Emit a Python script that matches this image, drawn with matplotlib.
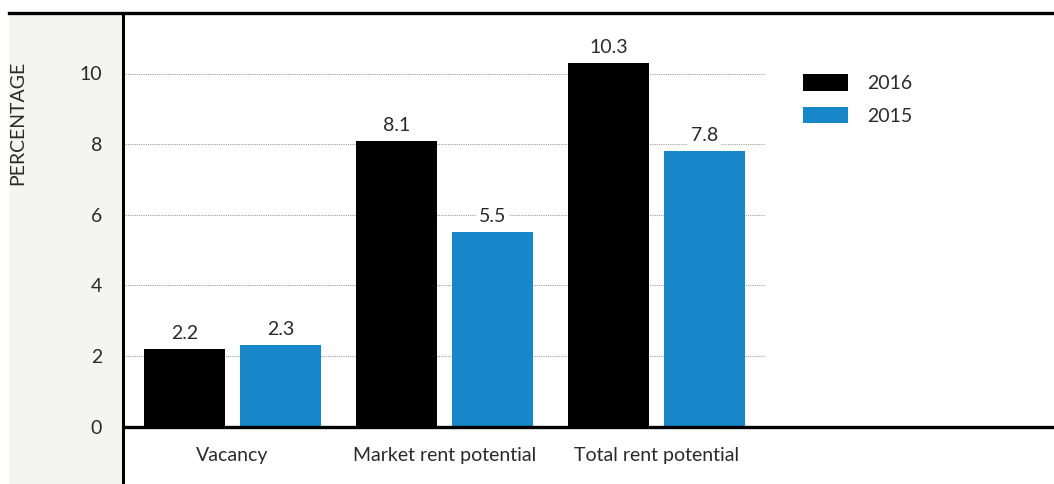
import matplotlib
matplotlib.use("Agg")
import matplotlib.pyplot as plt
from matplotlib.patches import Rectangle, Patch
from matplotlib.lines import Line2D

# -------------------------------------------------------------------------
# Data
# -------------------------------------------------------------------------
categories = ["Vacancy", "Market rent potential", "Total rent potential"]
series_names = ["2016", "2015"]
values_2016 = [2.2, 8.1, 10.3]
values_2015 = [2.3, 5.5, 7.8]
yticks = [0, 2, 4, 6, 8, 10]
grid_levels = [2, 4, 6, 8, 10]

BLACK = "#000000"
BLUE = "#1787c9"
TEXT = "#2a2a2a"
PANEL = "#f4f4f1"
FS = 14

plt.rcParams["font.family"] = ["Lato", "DejaVu Sans"]

W, H = 1054, 484
fig = plt.figure(figsize=(W / 100, H / 100), dpi=100)
fig.patch.set_facecolor("white")

# left grey panel behind tick labels
fig.add_artist(Rectangle((9 / W, 0), (122 - 9) / W, 1 - 14 / H,
                         transform=fig.transFigure, facecolor=PANEL,
                         edgecolor="none", zorder=0))
# heavy rule across the top
fig.add_artist(Line2D([9 / W, 1], [1 - 12.5 / H, 1 - 12.5 / H],
                      transform=fig.transFigure, color=BLACK, lw=2.4))

# axes spans from the top rule down to the bottom edge of the figure
px_per_unit = 35.3
y0_px = 426.5
ax = fig.add_axes([123 / W, 0, 1 - 123 / W, 1 - 14 / H])
ax.set_facecolor("white")
ax.set_ylim(-(H - y0_px) / px_per_unit, (y0_px - 14) / px_per_unit)

group_px = 212
center0 = 232.5
ax.set_xlim((123 - center0) / group_px, (W - center0) / group_px)

bar_w = 81 / group_px
offset = 48 / group_px
x = list(range(len(categories)))

ax.hlines(grid_levels, (123 - center0) / group_px, (765 - center0) / group_px,
          colors="#a0a0a0", linestyles=(0, (1, 1)), lw=0.8, zorder=1)

b1 = ax.bar([i - offset for i in x], values_2016, width=bar_w, color=BLACK, zorder=2)
b2 = ax.bar([i + offset for i in x], values_2015, width=bar_w, color=BLUE, zorder=2)

for bars, vals in ((b1, values_2016), (b2, values_2015)):
    for rect, v in zip(bars, vals):
        ax.annotate(f"{v:.1f}", (rect.get_x() + rect.get_width() / 2, v),
                    xytext=(0, 5), textcoords="offset points",
                    ha="center", va="bottom", fontsize=FS, color=TEXT,
                    bbox=dict(boxstyle="square,pad=0.15", fc="white", ec="none"),
                    zorder=3)

# baseline
ax.axhline(0, color=BLACK, lw=2.4, zorder=4)

for s in ("top", "right", "bottom"):
    ax.spines[s].set_visible(False)
ax.spines["left"].set_color(BLACK)
ax.spines["left"].set_linewidth(2.2)

ax.set_yticks(yticks)
ax.set_yticklabels([str(t) for t in yticks], fontsize=FS, color=TEXT)
ax.tick_params(axis="y", length=0, pad=15)
ax.set_xticks([])

for i, cat in enumerate(categories):
    ax.text(i, -0.82, cat, ha="center", va="center", fontsize=FS, color=TEXT)

fig.text(18 / W, 1 - 123 / H, "PERCENTAGE", rotation=90, ha="center",
         va="center", fontsize=FS, color=TEXT)

handles = [Patch(facecolor=BLACK, edgecolor="none"),
           Patch(facecolor=BLUE, edgecolor="none")]
fig.legend(handles, series_names, loc="upper left",
           bbox_to_anchor=(803 / W, 1 - 74 / H), frameon=False,
           fontsize=FS, handlelength=2.3, handleheight=0.95,
           handletextpad=1.0, labelspacing=0.75, borderpad=0,
           borderaxespad=0, labelcolor=TEXT)

fig.savefig("out.png", dpi=100, facecolor="white")
